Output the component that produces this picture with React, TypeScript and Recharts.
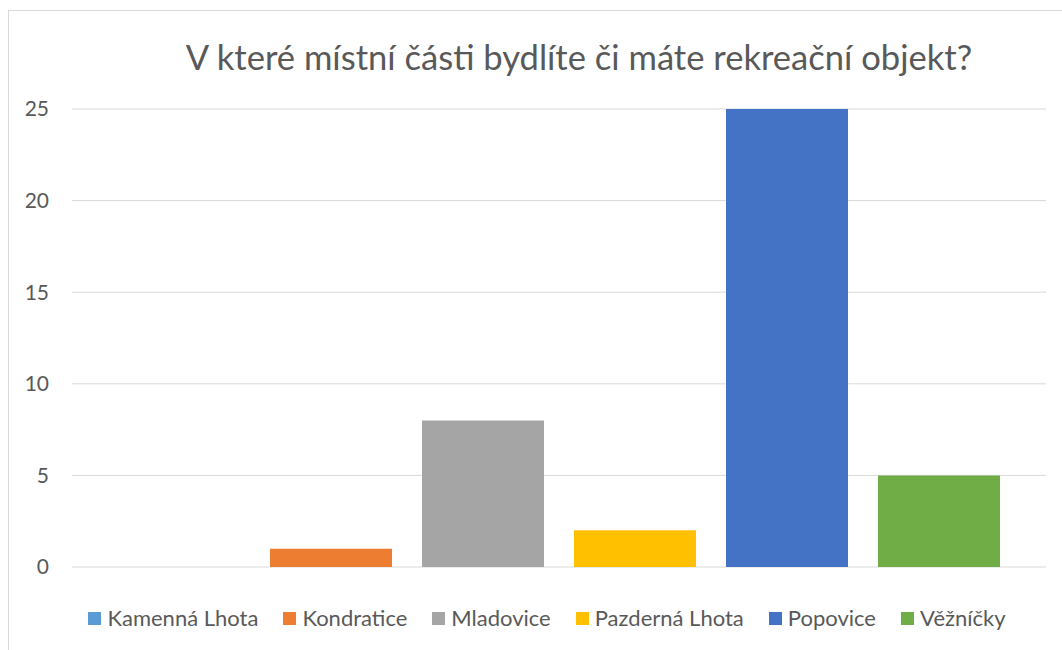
import React from 'react';
import { BarChart, Bar, XAxis, YAxis, CartesianGrid, Legend } from 'recharts';

const categories = [''];
const seriesNames = ['Kamenná Lhota', 'Kondratice', 'Mladovice', 'Pazderná Lhota', 'Popovice', 'Věžníčky'];
const seriesValues = [0, 1, 8, 2, 25, 5];
const yTicks = [0, 5, 10, 15, 20, 25];
const seriesColors = ['#5B9BD5', '#ED7D31', '#A5A5A5', '#FFC000', '#4472C4', '#70AD47'];
const title = 'V které místní části bydlíte či máte rekreační objekt?';

const data = categories.map((c) => {
  const row: Record<string, any> = { name: c };
  seriesNames.forEach((s, i) => {
    row[s] = seriesValues[i];
  });
  return row;
});

const FONT = 'Lato, "Open Sans", sans-serif';
const TEXT = '#595959';

const LegendContent = () => (
  <div
    style={{
      display: 'flex',
      justifyContent: 'center',
      alignItems: 'center',
      gap: 25,
      paddingTop: 40,
      paddingLeft: 39,
      fontFamily: FONT,
      fontSize: 22,
      color: TEXT,
      lineHeight: '22px',
    }}
  >
    {seriesNames.map((s, i) => (
      <div key={s} style={{ display: 'flex', alignItems: 'center' }}>
        <span style={{ width: 13, height: 13, background: seriesColors[i], marginRight: 6, display: 'inline-block' }} />
        <span>{s}</span>
      </div>
    ))}
  </div>
);

export default function App() {
  return (
    <div
      style={{
        position: 'absolute',
        left: 8,
        top: 10,
        width: 1060,
        height: 640,
        borderLeft: '1px solid #d9d9d9',
        borderTop: '1px solid #d9d9d9',
        background: '#fff',
      }}
    >
      <div
        style={{
          position: 'absolute',
          left: 0,
          top: 25,
          width: 1140,
          textAlign: 'center',
          fontFamily: FONT,
          fontSize: 34.6,
          color: TEXT,
          whiteSpace: 'nowrap',
        }}
      >
        {title}
      </div>
      <div style={{ position: 'absolute', left: 0, top: 0 }}>
        <BarChart
          width={1060}
          height={640}
          data={data}
          margin={{ top: 98, right: 23, bottom: 14, left: 0 }}
          barCategoryGap={46}
          barGap={30}
        >
          <CartesianGrid vertical={false} stroke="#d9d9d9" strokeWidth={1} />
          <XAxis dataKey="name" hide />
          <YAxis
            width={63}
            domain={[0, 25]}
            ticks={yTicks}
            axisLine={false}
            tickLine={false}
            tickSize={0}
            tickMargin={23}
            tick={{ fill: TEXT, fontSize: 21, fontFamily: FONT }}
          />
          <Legend verticalAlign="bottom" height={70} content={<LegendContent />} />
          {seriesNames.map((s, i) => (
            <Bar key={s} dataKey={s} fill={seriesColors[i]} isAnimationActive={false} />
          ))}
        </BarChart>
      </div>
    </div>
  );
}
